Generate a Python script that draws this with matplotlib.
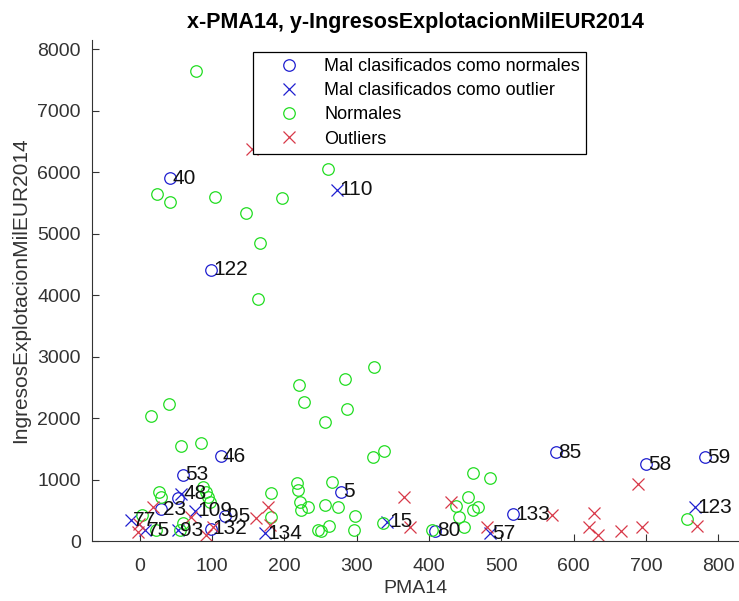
import matplotlib
matplotlib.use('Agg')
import matplotlib.pyplot as plt

plt.rcParams['font.family'] = ['Liberation Sans', 'DejaVu Sans']

# Mal clasificados como normales (blue circles)
mn_x = [42.5, 99, 112, 60, 29, 118, 98, 53, 278, 408, 516, 576, 700, 782]
mn_y = [5905, 4410, 1383, 1074, 516, 400, 200, 695, 802, 168, 434, 1443, 1248, 1362]
mn_lab = ['40', '122', '46', '53', '23', '95', '132', '', '5', '80', '133', '85', '58', '59']

# Mal clasificados como outlier (blue crosses)
mo_x = [273, 57.7, 76, -12, 7, 53, 173, 342, 484, 768]
mo_y = [5712, 765, 493, 340, 179, 179, 125, 314, 125, 548]
mo_lab = ['110', '48', '109', '77', '75', '93', '134', '15', '57', '123']

# Normales (green circles)
nor_x = [78, 24, 41.5, 104, 147, 166, 197, 260, 164,
         15, 40, 220, 227, 256, 283.5, 287, 324,
         57.6, 85, 322, 337.5,
         27, 29, 87.6, 91, 94.5, 97, 181, 3.7, 60, 55, 182,
         217, 219, 221, 223.6, 233, 247,
         266, 256, 274, 297, 296, 251, 262, 336.5,
         454, 461, 484, 437, 442, 449, 461, 468, 404, 756, 22]
nor_y = [7650, 5642, 5517, 5593, 5343, 4855, 5577, 6049, 3933,
         2034, 2229, 2539, 2267, 1932, 2631, 2148, 2837,
         1546, 1600, 1372, 1465,
         800, 716, 884, 802, 711, 640, 786, 423, 288, 179, 386,
         939, 830, 640, 504, 548, 179,
         965, 586, 548, 407, 179, 168, 244, 288,
         711, 1102, 1020, 570, 386, 223, 504, 548, 179, 353, 180]

# Outliers (red crosses)
out_x = [155, 365, 373, 431, 479.5, 570, 628, 621.5, 634, 665, 695, 689, 771,
         19, 71.5, -1, -2, 92, 101, 161, 177.5, 180]
out_y = [6380, 711, 223, 640, 233, 423, 450, 223, 98, 168, 223, 928, 244,
         548, 395, 277, 151, 98, 233, 369, 558, 260]

blue = '#1f1fd0'
green = '#22dd22'
red = '#d83848'

fig = plt.figure(figsize=(7.39, 6.01), dpi=100)
ax = fig.add_axes([0.1245, 0.0998, 0.874, 0.8336])

ms = 8.3
ax.plot(mn_x, mn_y, 'o', mfc='none', mec=blue, ms=ms, mew=0.9, label='Mal clasificados como normales')
ax.plot(mo_x, mo_y, 'x', color=blue, ms=ms, mew=0.9, label='Mal clasificados como outlier')
ax.plot(nor_x, nor_y, 'o', mfc='none', mec=green, ms=ms, mew=0.9, label='Normales')
ax.plot(out_x, out_y, 'x', color=red, ms=ms, mew=0.9, label='Outliers')

for xs, ys, labs in [(mn_x, mn_y, mn_lab), (mo_x, mo_y, mo_lab)]:
    for x, y, t in zip(xs, ys, labs):
        if t:
            ax.text(x + 3, y, t, fontsize=15, va='center', ha='left', color='#111111', zorder=5)

ax.set_xlim(-66, 827)
ax.set_ylim(0, 8150)
ax.set_xticks(range(0, 801, 100))
ax.set_yticks(range(0, 8001, 1000))
for s in ['top', 'right']:
    ax.spines[s].set_visible(False)
for s in ['left', 'bottom']:
    ax.spines[s].set_color('#333333')
ax.tick_params(direction='in', length=5, labelsize=14, colors='#333333', labelcolor='#333333')
ax.tick_params(axis='x', pad=12)
ax.tick_params(axis='y', pad=8)

ax.set_title('x-PMA14, y-IngresosExplotacionMilEUR2014', fontsize=15.5, fontweight='bold', pad=9)
ax.set_xlabel('PMA14', fontsize=14, color='#333333', labelpad=4)
ax.set_ylabel('IngresosExplotacionMilEUR2014', fontsize=15, color='#333333', labelpad=5)

leg = ax.legend(loc='upper left', bbox_to_anchor=(0.249, 0.977), borderaxespad=0,
                fontsize=13, handlelength=3.3, handletextpad=0.3, labelspacing=0.4,
                borderpad=0.35, fancybox=False, framealpha=1, edgecolor='black')
leg.get_frame().set_linewidth(0.9)

fig.savefig('out.png', dpi=100)
